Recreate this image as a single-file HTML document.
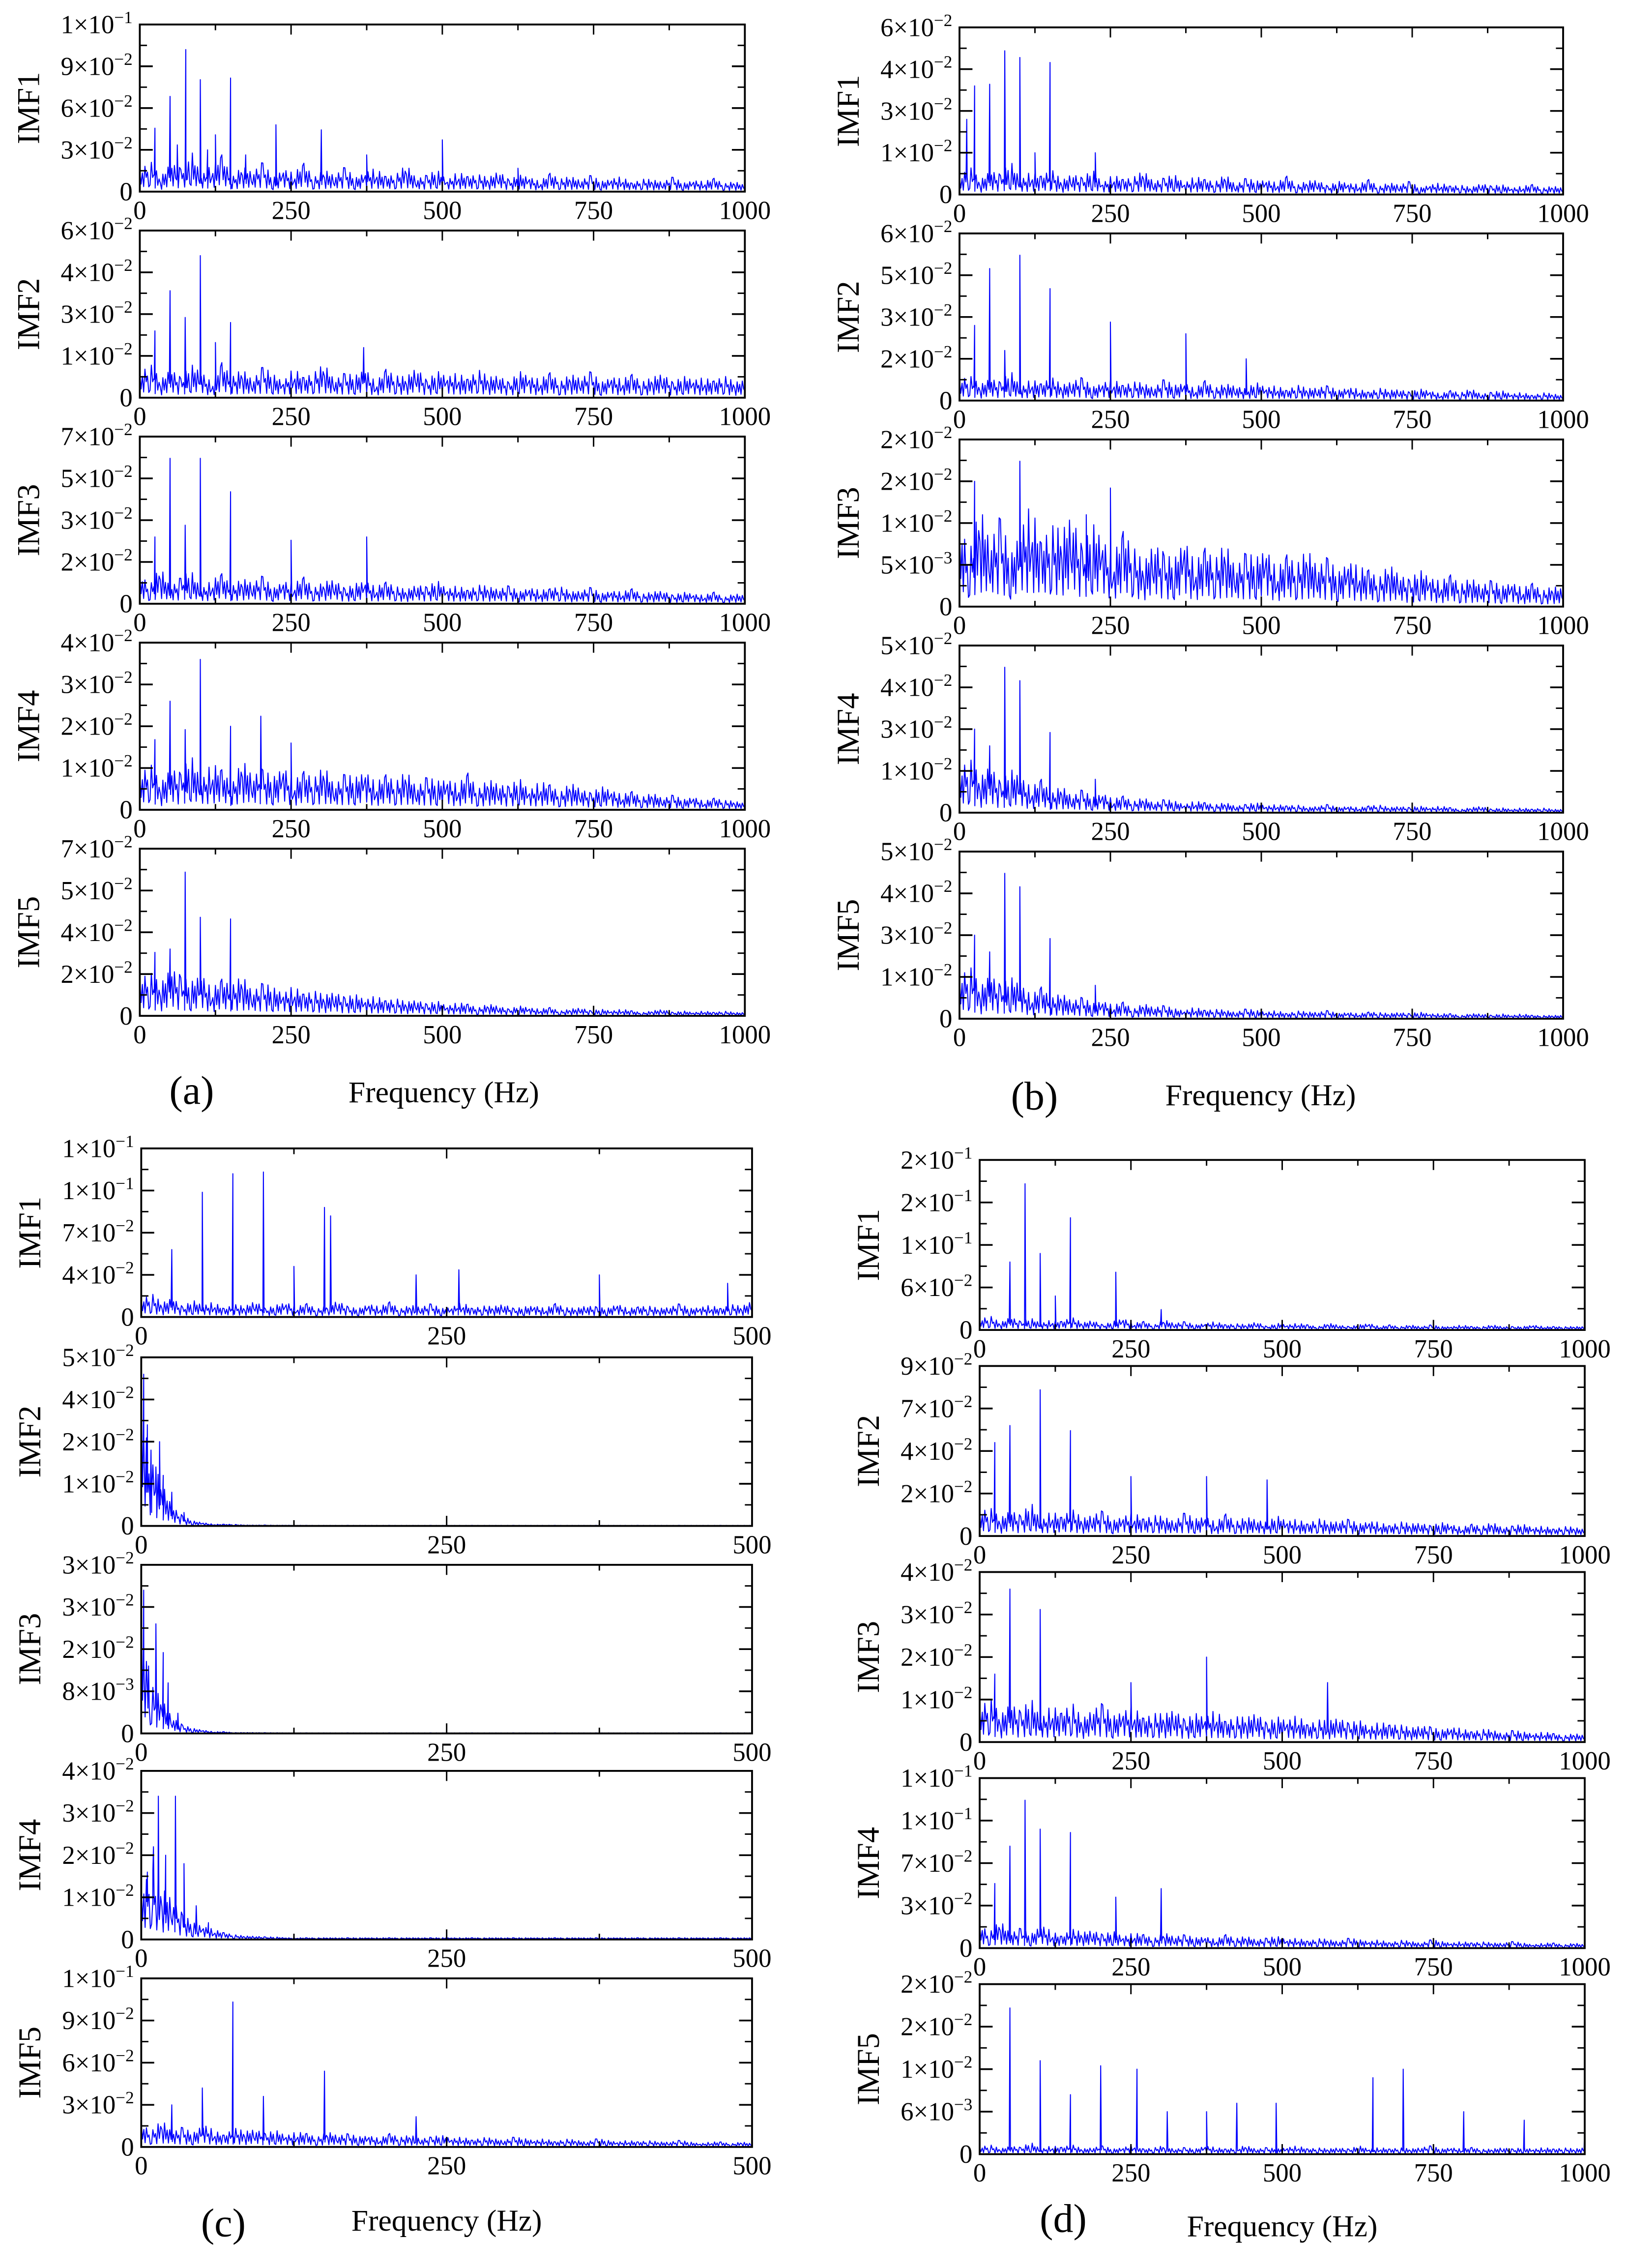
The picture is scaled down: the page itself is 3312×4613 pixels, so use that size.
<!DOCTYPE html>
<html><head><meta charset="utf-8">
<style>
html,body{margin:0;padding:0;background:#fff;}
svg{display:block;}
</style></head>
<body>
<svg id="fig" width="3312" height="4613" viewBox="0 0 1130 1574" xmlns="http://www.w3.org/2000/svg" font-family="Liberation Serif, serif">
<rect x="0" y="0" width="1130" height="1574" fill="#fff"/>
</svg>
<script>
// ---- Data (amplitudes in percent of each axis' full scale) ----
const xTicksK = [0,250,500,750,1000];
const xTicksH = [0,250,500];

const labelsA1 = ["1×10|−1","9×10|−2","6×10|−2","3×10|−2","0"];
const noiseA1 = [12,20,8,18,14,25,10,16,22,9,15,12,18,8,14,11,17,9,13,10,15,8,12,14,9,11,16,8,10,13,7,12,9,11,8,13,7,10,9,6,11,8,9,7,10,6,8,9,5,8,7,6,9,5,7,6,8,5,6,4];
const peaksA1 = [[25,38],[50,57],[62,28],[76,85],[100,67],[112,25],[125,34],[150,68],[175,22],[225,40],[300,37],[375,22],[500,31],[625,14]];

const labelsA2 = ["6×10|−2","4×10|−2","3×10|−2","1×10|−2","0"];
const noiseA2 = [14,22,10,18,12,20,16,9,21,13,17,11,19,14,10,18,12,16,20,11,15,13,18,9,17,14,12,19,10,16,13,15,11,18,12,14,9,16,13,11,15,10,14,12,16,9,13,11,14,10,12,15,9,13,11,12,10,14,9,11];
const peaksA2 = [[25,40],[50,64],[75,48],[100,85],[125,33],[150,45],[370,30]];

const labelsA3 = ["7×10|−2","5×10|−2","3×10|−2","2×10|−2","0"];
const noiseA3 = [18,12,22,10,16,20,9,14,18,11,15,13,17,9,14,12,16,10,13,15,9,12,14,10,13,11,8,12,10,14,9,11,8,12,10,9,11,7,10,8,9,11,7,8,10,6,8,7,9,6,7,8,5,7,6,5,7,4,6,5];
const peaksA3 = [[25,40],[50,87],[75,47],[100,87],[150,67],[250,38],[375,40]];

const labelsA4 = ["4×10|−2","3×10|−2","2×10|−2","1×10|−2","0"];
const noiseA4 = [20,30,15,26,22,33,18,28,24,16,30,21,25,19,27,17,23,20,26,15,22,19,24,16,21,18,23,14,20,17,19,15,22,13,18,16,14,19,12,17,15,11,16,13,10,14,12,9,11,8,10,7,9,6,8,5,7,6,5,4];
const peaksA4 = [[25,42],[50,65],[75,48],[100,90],[150,50],[200,56],[250,40]];

const labelsA5 = ["7×10|−2","5×10|−2","4×10|−2","2×10|−2","0"];
const noiseA5 = [22,28,18,30,24,20,26,16,22,19,24,15,20,17,14,18,13,16,12,15,11,13,10,12,9,11,8,10,7,9,6,8,7,5,7,6,4,6,5,4,5,3,4,5,3,4,3,4,3,2,3,4,2,3,2,3,2,3,2,2];
const peaksA5 = [[25,38],[50,40],[75,86],[100,59],[150,58]];

const labelsB1 = ["6×10|−2","4×10|−2","3×10|−2","1×10|−2","0"];
const noiseB1 = [10,18,8,15,12,20,9,14,11,16,8,13,10,15,7,12,9,11,14,8,10,12,7,11,9,8,12,6,10,8,9,7,11,6,8,9,5,8,7,6,9,5,7,6,8,4,6,7,5,6,4,7,5,6,4,5,6,4,5,4];
const peaksB1 = [[12,45],[25,65],[50,66],[75,86],[100,82],[125,25],[150,79],[225,25]];

const labelsB2 = ["6×10|−2","5×10|−2","3×10|−2","2×10|−2","0"];
const noiseB2 = [12,16,9,14,11,18,8,13,10,15,9,12,14,8,11,13,9,12,10,8,13,9,11,7,12,8,10,9,7,11,8,9,6,10,7,8,9,6,8,7,5,8,6,7,5,7,6,4,6,5,7,4,5,6,4,5,3,5,4,3];
const peaksB2 = [[25,45],[50,79],[75,30],[100,87],[150,67],[250,47],[375,40],[475,25]];

const labelsB3 = ["2×10|−2","2×10|−2","1×10|−2","5×10|−3","0"];
const noiseB3 = [50,35,60,40,55,30,48,62,38,52,44,58,35,50,42,30,45,38,25,40,32,28,42,26,35,30,38,24,33,29,36,22,31,27,34,25,30,20,28,24,22,18,25,20,16,22,18,15,19,14,17,13,16,12,15,11,14,10,12,11];
const peaksB3 = [[25,75],[100,87],[210,55],[250,71]];

const labelsB4 = ["5×10|−2","4×10|−2","3×10|−2","1×10|−2","0"];
const noiseB4 = [25,35,20,30,18,26,22,15,20,12,16,10,14,9,12,8,10,7,9,6,8,7,5,7,6,5,6,4,5,6,4,5,4,5,3,4,5,3,4,3,4,5,3,4,3,4,3,4,3,2,3,4,2,3,2,3,2,3,2,2];
const peaksB4 = [[25,50],[50,40],[75,87],[100,79],[150,48],[225,20]];

const labelsB5 = ["5×10|−2","4×10|−2","3×10|−2","1×10|−2","0"];
const noiseB5 = [24,34,18,28,20,25,21,14,19,13,15,11,13,9,11,8,10,6,9,7,8,6,5,7,5,6,5,4,6,5,4,5,3,5,4,4,5,3,4,3,4,4,3,4,3,4,3,3,3,2,3,3,2,3,2,3,2,2,2,2];
const peaksB5 = [[25,50],[50,40],[75,87],[100,79],[150,48],[225,20]];

const labelsC1 = ["1×10|−1","1×10|−1","7×10|−2","4×10|−2","0"];
const noiseC1 = [10,15,8,12,6,10,7,9,5,8,6,10,5,7,9,6,8,5,7,10,6,5,8,6,9,5,7,6,8,5,6,9,5,7,6,8,5,6,7,5,8,6,5,7,6,5,8,5,6,7,5,6,8,5,6,7,5,8,6,10];
const peaksC1 = [[25,40],[50,74],[75,85],[100,86],[125,30],[150,65],[155,60],[225,25],[260,28],[375,25],[480,20]];

const labelsC2 = ["5×10|−2","4×10|−2","2×10|−2","1×10|−2","0"];
const noiseC2 = [70,40,25,12,6,3,2,1,1,1,0.5,0.5,0.5,0.4,0.4,0.4,0.3,0.3,0.3,0.3,0.3,0.3,0.3,0.3,0.3,0.3,0.3,0.3,0.3,0.3,0.3,0.3,0.3,0.3,0.3,0.3,0.3,0.3,0.3,0.3,0.3,0.3,0.3,0.3,0.3,0.3,0.3,0.3,0.3,0.3,0.3,0.3,0.3,0.3,0.3,0.3,0.3,0.3,0.3,0.3];
const peaksC2 = [[2,90],[5,60],[8,45],[12,35],[15,50],[18,30],[25,20],[35,8]];

const labelsC3 = ["3×10|−2","3×10|−2","2×10|−2","8×10|−3","0"];
const noiseC3 = [60,30,20,10,5,3,2,1,1,0.5,0.5,0.5,0.4,0.4,0.3,0.3,0.3,0.3,0.3,0.3,0.3,0.3,0.3,0.3,0.3,0.3,0.3,0.3,0.3,0.3,0.3,0.3,0.3,0.3,0.3,0.3,0.3,0.3,0.3,0.3,0.3,0.3,0.3,0.3,0.3,0.3,0.3,0.3,0.3,0.3,0.3,0.3,0.3,0.3,0.3,0.3,0.3,0.3,0.3,0.3];
const peaksC3 = [[2,85],[6,40],[12,65],[18,48],[22,30],[30,12]];

const labelsC4 = ["4×10|−2","3×10|−2","2×10|−2","1×10|−2","0"];
const noiseC4 = [30,45,30,25,15,10,8,6,4,3,2,2,1.5,1.5,1,1,1,1,1,1,1,1,1,1,1,1,1,1,1,1,1,1,1,1,1,1,1,1,1,1,1,1,1,1,1,1,1,1,1,1,1,1,1,1,1,1,1,1,1,1];
const peaksC4 = [[5,40],[10,55],[14,85],[20,50],[28,85],[35,45],[45,20],[55,10]];

const labelsC5 = ["1×10|−1","9×10|−2","6×10|−2","3×10|−2","0"];
const noiseC5 = [14,10,16,9,12,8,14,10,7,12,9,11,8,10,7,9,8,6,9,7,8,6,7,5,8,6,7,5,6,7,5,6,4,6,5,4,6,5,4,5,3,5,4,3,5,4,3,4,3,4,3,3,4,3,2,3,3,2,3,2];
const peaksC5 = [[25,25],[50,35],[75,86],[100,30],[150,45],[225,18]];

const labelsD1 = ["2×10|−1","2×10|−1","1×10|−1","6×10|−2","0"];
const noiseD1 = [6,9,4,8,5,7,4,6,5,8,4,6,3,5,7,4,5,3,6,4,5,3,4,5,3,4,3,5,2,4,3,4,3,2,4,3,2,3,4,2,3,2,3,2,3,2,2,3,2,2,3,2,2,2,3,2,2,2,2,2];
const peaksD1 = [[50,40],[75,86],[100,45],[125,20],[150,66],[225,34],[300,12]];

const labelsD2 = ["9×10|−2","7×10|−2","4×10|−2","2×10|−2","0"];
const noiseD2 = [14,18,10,16,12,20,9,15,11,17,10,13,15,9,12,14,10,13,11,9,14,10,12,8,13,9,11,10,8,12,9,10,7,11,8,9,10,7,9,8,6,9,7,8,6,8,7,5,7,6,8,5,6,7,5,6,4,6,5,4];
const peaksD2 = [[25,55],[50,65],[100,86],[150,62],[250,35],[375,35],[475,33]];

const labelsD3 = ["4×10|−2","3×10|−2","2×10|−2","1×10|−2","0"];
const noiseD3 = [20,28,15,24,18,26,14,22,17,25,13,20,23,15,19,21,14,18,16,20,13,17,15,19,12,16,14,18,11,15,13,16,10,14,12,15,11,13,9,12,10,11,8,10,9,7,9,8,6,8,7,5,7,6,5,6,5,4,5,4];
const peaksD3 = [[25,40],[50,90],[100,78],[250,35],[375,50],[575,35]];

const labelsD4 = ["1×10|−1","1×10|−1","7×10|−2","3×10|−2","0"];
const noiseD4 = [14,10,16,9,12,8,14,10,7,12,9,11,8,10,7,9,8,6,9,7,8,6,7,5,8,6,7,5,6,7,5,6,4,6,5,4,6,5,4,5,3,5,4,3,5,4,3,4,3,4,3,3,4,3,2,3,3,2,3,2];
const peaksD4 = [[25,38],[50,60],[75,87],[100,70],[150,68],[225,30],[300,35]];

const labelsD5 = ["2×10|−2","2×10|−2","1×10|−2","6×10|−3","0"];
const noiseD5 = [4,6,3,5,4,7,3,5,4,6,3,4,5,3,4,6,3,4,5,3,4,3,5,4,3,4,5,3,4,3,4,5,3,4,3,4,3,5,3,4,3,4,3,4,5,3,4,3,4,3,3,4,3,4,3,4,3,4,3,4];
const peaksD5 = [[50,86],[100,55],[150,35],[200,52],[260,50],[310,25],[375,25],[425,30],[490,30],[650,45],[700,50],[800,25],[900,20],[1000,20]];

// ---- Rendering ----
const NS = "http://www.w3.org/2000/svg";
const svg = document.getElementById('fig');
const FONT = 'Liberation Serif, serif';
function el(tag, attrs, parent){
  const e = document.createElementNS(NS, tag);
  for (const k in attrs) e.setAttribute(k, attrs[k]);
  (parent||svg).appendChild(e);
  return e;
}
// fixed drawing texture used to render the dense noise band between samples
const texture = [1,0.35,0.8,0.2,0.95,0.5,0.65,0.15];
const panels = [
  {id:'a', x0:97, x1:517, range:1000, ticks:xTicksK, tops:[17,160,303,446,589], h:116,
   subs:[[labelsA1,noiseA1,peaksA1],[labelsA2,noiseA2,peaksA2],[labelsA3,noiseA3,peaksA3],[labelsA4,noiseA4,peaksA4],[labelsA5,noiseA5,peaksA5]],
   lab:[133,757], freq:[308,758]},
  {id:'b', x0:666, x1:1085, range:1000, ticks:xTicksK, tops:[19,162,305,448,591], h:116,
   subs:[[labelsB1,noiseB1,peaksB1],[labelsB2,noiseB2,peaksB2],[labelsB3,noiseB3,peaksB3],[labelsB4,noiseB4,peaksB4],[labelsB5,noiseB5,peaksB5]],
   lab:[718,761], freq:[875,760]},
  {id:'c', x0:98, x1:522, range:500, ticks:xTicksH, tops:[797,942,1086,1229,1373], h:117,
   subs:[[labelsC1,noiseC1,peaksC1],[labelsC2,noiseC2,peaksC2],[labelsC3,noiseC3,peaksC3],[labelsC4,noiseC4,peaksC4],[labelsC5,noiseC5,peaksC5]],
   lab:[155,1543], freq:[310,1541]},
  {id:'d', x0:680, x1:1100, range:1000, ticks:xTicksK, tops:[805,948,1091,1234,1377], h:118,
   subs:[[labelsD1,noiseD1,peaksD1],[labelsD2,noiseD2,peaksD2],[labelsD3,noiseD3,peaksD3],[labelsD4,noiseD4,peaksD4],[labelsD5,noiseD5,peaksD5]],
   lab:[738,1540], freq:[890,1545]}
];

panels.forEach(p => {
  const g = el('g', {});
  
  
  const xs = f => p.x0 + (f / p.range) * (p.x1 - p.x0);
  p.subs.forEach((s, si) => {
    const [labels, noise, peaks] = s;
    const top = p.tops[si], bot = top + p.h;
    const ys = v => bot - (v / 100) * p.h;
    const sg = el('g', {}, g);
    
    
    const n = noise.length, stepF = p.range / (n - 1);
    const pts = [];
    noise.forEach((v, i) => {
      const nv = i < n - 1 ? noise[i+1] : v;
      const sub = texture.length;
      for (let k = 0; k < sub; k++) {
        if (i === n - 1 && k > 0) break;
        const t = k / sub;
        const lvl = v + (nv - v) * t;
        pts.push([i * stepF + t * stepF, lvl * texture[(k + i * 3) % sub]]);
      }
    });
    const d = p.range / 900;
    peaks.forEach(([f, v]) => {
      const i = Math.min(n - 1, Math.round(f / stepF));
      const base = noise[i] * 0.5;
      pts.push([f - d, base]); pts.push([f, v]); pts.push([f + d, base]);
    });
    pts.sort((a, b) => a[0] - b[0]);
    const path = el('polyline', {points: pts.map(q => xs(Math.max(0, Math.min(p.range, q[0]))).toFixed(2) + ',' + ys(q[1]).toFixed(2)).join(' '), fill:'none', stroke:'#0000ff', 'stroke-width':0.7, 'stroke-linejoin':'round'}, sg);
    
    
    const fr = el('rect', {x:p.x0, y:top, width:p.x1-p.x0, height:p.h, fill:'none', stroke:'#000', 'stroke-width':1.3}, sg);
    
    
    const step = p.ticks[1] - p.ticks[0];
    for (let f = 0; f <= p.range + 1e-6; f += step / 2) {
      const major = Math.abs(f / step - Math.round(f / step)) < 1e-6;
      const len = major ? 7 : 4;
      el('line', {x1:xs(f), x2:xs(f), y1:bot, y2:bot-len, stroke:'#000', 'stroke-width':1}, sg);
      el('line', {x1:xs(f), x2:xs(f), y1:top, y2:top+len, stroke:'#000', 'stroke-width':1}, sg);
    }
    p.ticks.forEach(t => {
      const tx = el('text', {x:xs(t), y:bot+19, 'font-size':18, 'text-anchor':'middle', 'font-family':FONT}, sg);
      
      
      tx.textContent = t;
    });
    labels.forEach((lb, li) => {
      const y = top + li * p.h / 4;
      if (li > 0 && li < 4) {
        el('line', {x1:p.x0, x2:p.x0+9, y1:y, y2:y, stroke:'#000', 'stroke-width':1.2}, sg);
        el('line', {x1:p.x1, x2:p.x1-9, y1:y, y2:y, stroke:'#000', 'stroke-width':1.2}, sg);
      }
      if (li < 4) {
        const ym = y + p.h / 8;
        el('line', {x1:p.x0, x2:p.x0+5, y1:ym, y2:ym, stroke:'#000', 'stroke-width':1}, sg);
        el('line', {x1:p.x1, x2:p.x1-5, y1:ym, y2:ym, stroke:'#000', 'stroke-width':1}, sg);
      }
      const parts = lb.split('|');
      const tx = el('text', {x:p.x0-5, y:y+6, 'font-size':18, 'text-anchor':'end', 'font-family':FONT}, sg);
      
      
      if (parts.length > 1) {
        const t1 = el('tspan', {}, tx); t1.textContent = parts[0];
        const t2 = el('tspan', {dy:-7, 'font-size':12}, tx); t2.textContent = parts[1];
      } else tx.textContent = parts[0];
    });
    const yl = el('text', {x:0, y:0, 'font-size':22, 'text-anchor':'middle', 'font-family':FONT, transform:'translate(' + (p.x0-70) + ',' + (top + p.h/2) + ') rotate(-90)'}, sg);
    
    
    yl.textContent = 'IMF' + (si+1);
  });
  const lt = el('text', {x:p.lab[0], y:p.lab[1]+9, 'font-size':28, 'text-anchor':'middle', 'font-family':FONT}, g);
  
  
  lt.textContent = '(' + p.id + ')';
  const ft = el('text', {x:p.freq[0], y:p.freq[1]+7, 'font-size':21, 'text-anchor':'middle', 'font-family':FONT}, g);
  
  
  ft.textContent = 'Frequency (Hz)';
});
</script>
</body></html>
